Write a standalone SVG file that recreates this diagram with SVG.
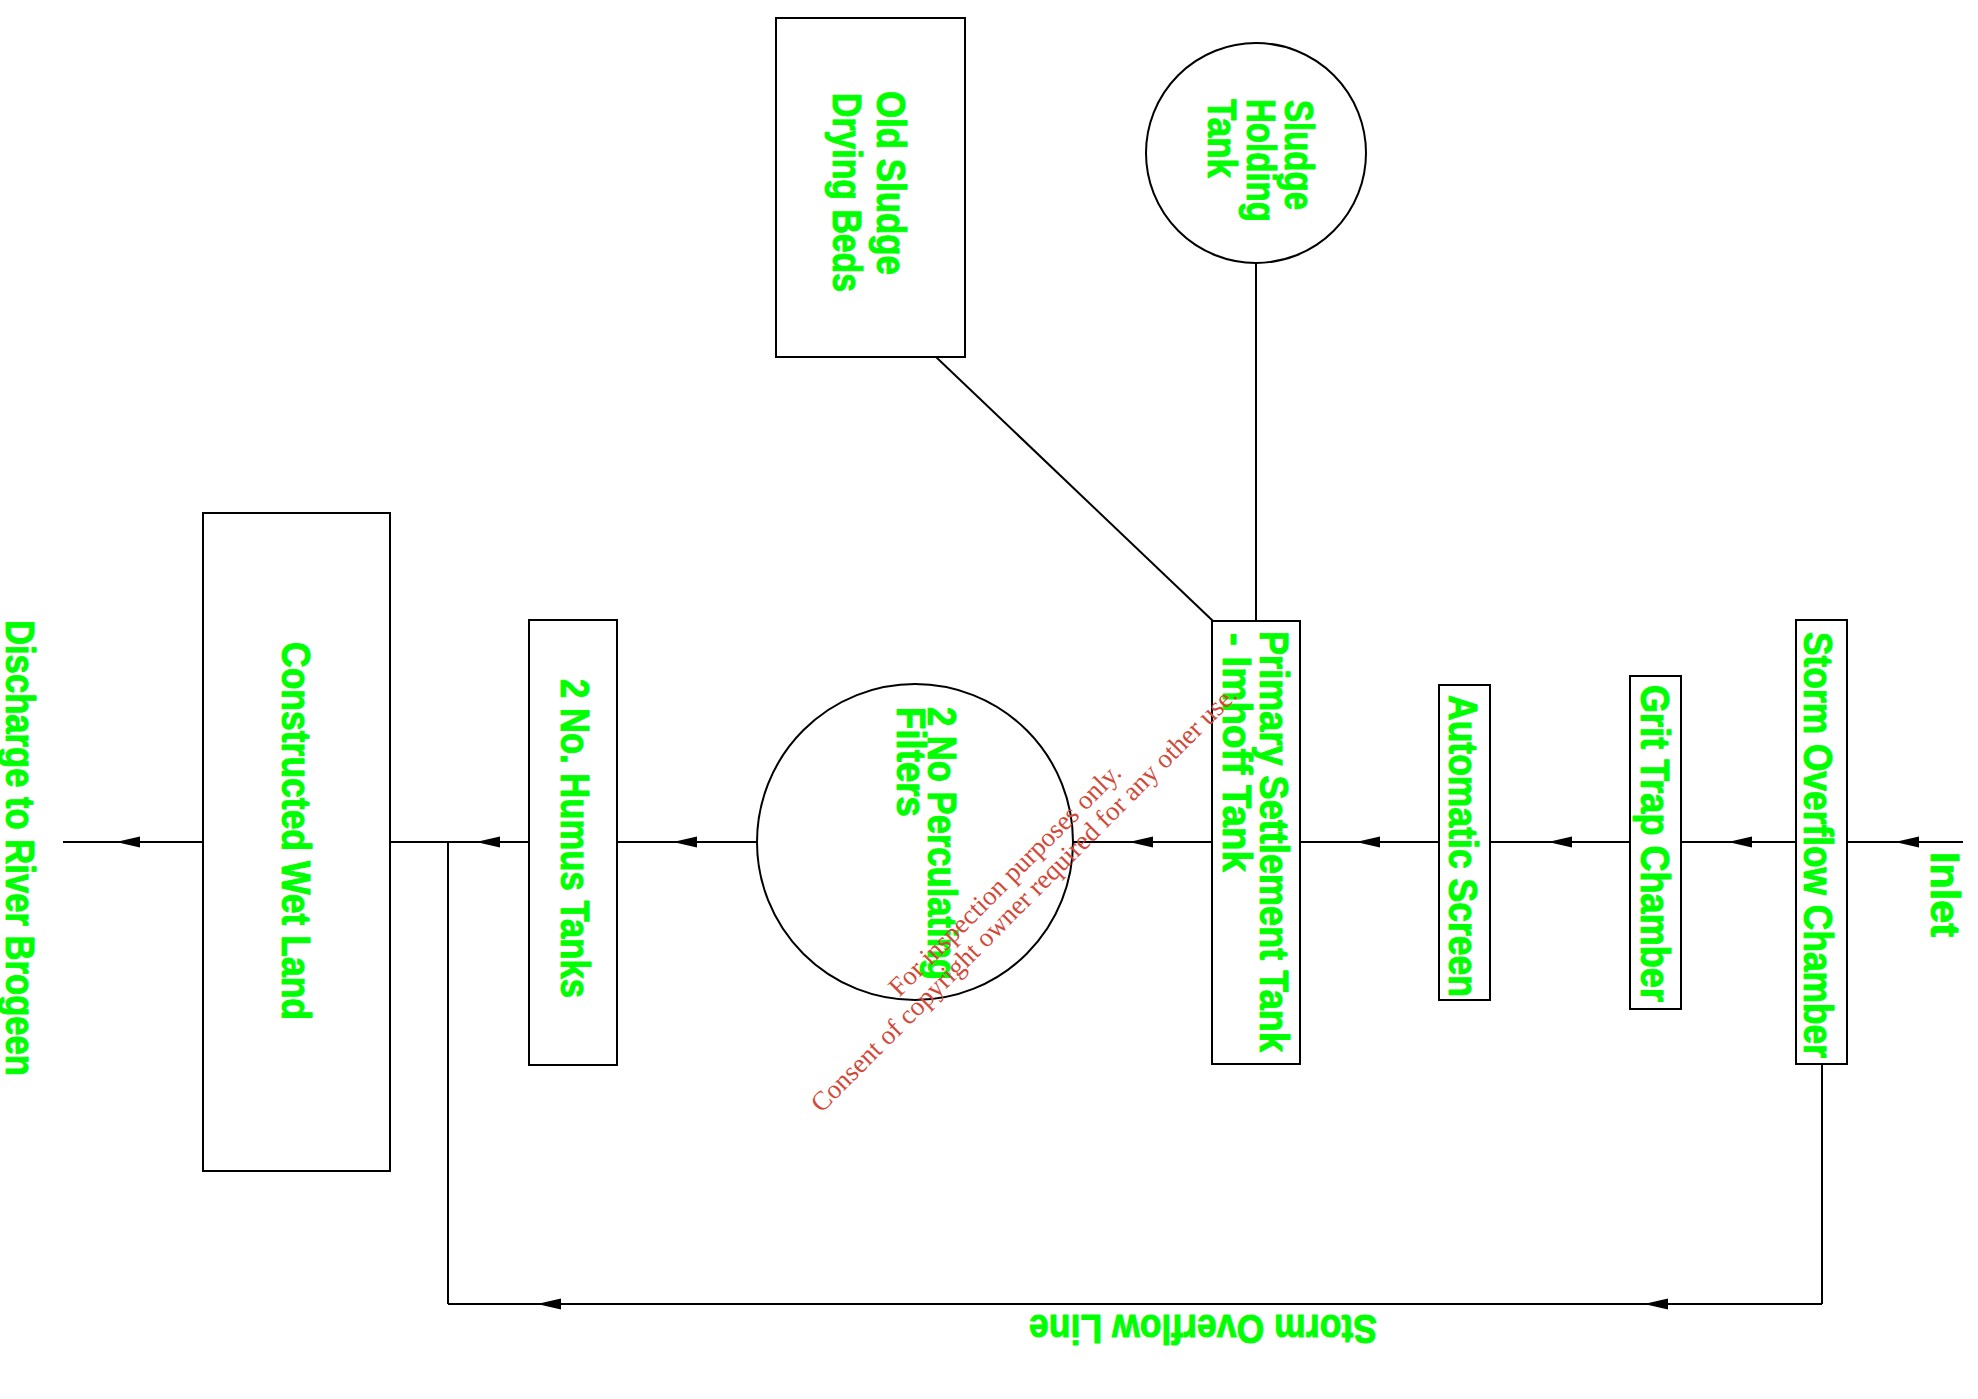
<svg xmlns="http://www.w3.org/2000/svg" width="1978" height="1399" viewBox="0 0 1978 1399">
<style>
.box{fill:none;stroke:#000;stroke-width:2}
.ln{fill:none;stroke:#000;stroke-width:2}
.lbl{font-family:"Liberation Sans",Arial,sans-serif;font-weight:bold;font-size:41px;fill:#00ff00;stroke:#00ff00;stroke-width:1;stroke-linejoin:round}
.wm{font-family:"Liberation Serif","Times New Roman",serif;font-size:27px;fill:#d04a3a;text-anchor:middle}
</style>
<defs>
<marker id="arr" markerUnits="userSpaceOnUse" markerWidth="24" markerHeight="12" refX="24" refY="6" orient="auto">
<path d="M0,0.5 L24,6 L0,11.5 Z" fill="#000"/>
</marker>
</defs>
<rect width="1978" height="1399" fill="#fff"/>

<g id="connectors">
<path class="ln" d="M1963,842 L1895,842 L1847,842" marker-mid="url(#arr)"/>
<path class="ln" d="M1796,842 L1728,842 L1681,842" marker-mid="url(#arr)"/>
<path class="ln" d="M1630,842 L1548,842 L1490,842" marker-mid="url(#arr)"/>
<path class="ln" d="M1439,842 L1356,842 L1300,842" marker-mid="url(#arr)"/>
<path class="ln" d="M1212,842 L1129,842 L1073,842" marker-mid="url(#arr)"/>
<path class="ln" d="M757,842 L673,842 L617,842" marker-mid="url(#arr)"/>
<path class="ln" d="M529,842 L476,842 L390,842" marker-mid="url(#arr)"/>
<path class="ln" d="M203,842 L116,842 L63,842" marker-mid="url(#arr)"/>
<path class="ln" d="M1822,1064 L1822,1304"/>
<path class="ln" d="M1822,1304 L1644,1304 L537,1304 L448,1304" marker-mid="url(#arr)"/>
<path class="ln" d="M448,1304 L448,842"/>
<path class="ln" d="M1256,263 L1256,621"/>
<path class="ln" d="M936,357 L1213,621"/>
</g>

<g id="inlet">
<text class="lbl" transform="translate(1931,852) rotate(90)" textLength="85" lengthAdjust="spacingAndGlyphs">Inlet</text>
</g>

<g id="storm-overflow-chamber">
<rect class="box" x="1796" y="620" width="51" height="444"/>
<text class="lbl" transform="translate(1804,632) rotate(90)" textLength="426" lengthAdjust="spacingAndGlyphs">Storm Overflow Chamber</text>
</g>

<g id="grit-trap-chamber">
<rect class="box" x="1630" y="676" width="51" height="333"/>
<text class="lbl" transform="translate(1641,685) rotate(90)" textLength="317" lengthAdjust="spacingAndGlyphs">Grit Trap Chamber</text>
</g>

<g id="automatic-screen">
<rect class="box" x="1439" y="685" width="51" height="315"/>
<text class="lbl" transform="translate(1449,695) rotate(90)" textLength="302" lengthAdjust="spacingAndGlyphs">Automatic Screen</text>
</g>

<g id="primary-settlement-tank">
<rect class="box" x="1212" y="621" width="88" height="443"/>
<text class="lbl" transform="translate(1260,631) rotate(90)" textLength="421" lengthAdjust="spacingAndGlyphs">Primary Settlement Tank</text>
<text class="lbl" transform="translate(1223,633) rotate(90)" textLength="239" lengthAdjust="spacingAndGlyphs">- Imhoff Tank</text>
</g>

<g id="sludge-holding-tank">
<circle class="box" cx="1256" cy="153" r="110"/>
<text class="lbl" transform="translate(1285,100) rotate(90)" textLength="110" lengthAdjust="spacingAndGlyphs">Sludge</text>
<text class="lbl" transform="translate(1247,99) rotate(90)" textLength="123" lengthAdjust="spacingAndGlyphs">Holding</text>
<text class="lbl" transform="translate(1208,99) rotate(90)" textLength="79" lengthAdjust="spacingAndGlyphs">Tank</text>
</g>

<g id="old-sludge-drying-beds">
<rect class="box" x="776" y="18" width="189" height="339"/>
<text class="lbl" transform="translate(877,91) rotate(90)" textLength="184" lengthAdjust="spacingAndGlyphs">Old Sludge</text>
<text class="lbl" transform="translate(833,93) rotate(90)" textLength="199" lengthAdjust="spacingAndGlyphs">Drying Beds</text>
</g>

<g id="perculating-filters">
<circle class="box" cx="915" cy="842" r="158"/>
<text class="lbl" transform="translate(928,707) rotate(90)" textLength="273" lengthAdjust="spacingAndGlyphs">2 No Perculating</text>
<text class="lbl" transform="translate(897,707) rotate(90)" textLength="110" lengthAdjust="spacingAndGlyphs">Filters</text>
</g>

<g id="humus-tanks">
<rect class="box" x="529" y="620" width="88" height="445"/>
<text class="lbl" transform="translate(561,679) rotate(90)" textLength="319" lengthAdjust="spacingAndGlyphs">2 No. Humus Tanks</text>
</g>

<g id="constructed-wet-land">
<rect class="box" x="203" y="513" width="187" height="658"/>
<text class="lbl" transform="translate(282,642) rotate(90)" textLength="378" lengthAdjust="spacingAndGlyphs">Constructed Wet Land</text>
</g>

<g id="discharge">
<text class="lbl" transform="translate(6,620) rotate(90)" textLength="456" lengthAdjust="spacingAndGlyphs">Discharge to River Brogeen</text>
</g>

<g id="storm-overflow-line-label">
<text class="lbl" transform="translate(1377,1315) rotate(180)" textLength="348" lengthAdjust="spacingAndGlyphs">Storm Overflow Line</text>
</g>

<g id="watermark" transform="translate(1011,886) rotate(-45)">
<text class="wm" x="0" y="0" textLength="316" lengthAdjust="spacingAndGlyphs">For inspection purposes only.</text>
<text class="wm" x="0" y="27" textLength="590" lengthAdjust="spacingAndGlyphs">Consent of copyright owner required for any other use.</text>
</g>
</svg>
